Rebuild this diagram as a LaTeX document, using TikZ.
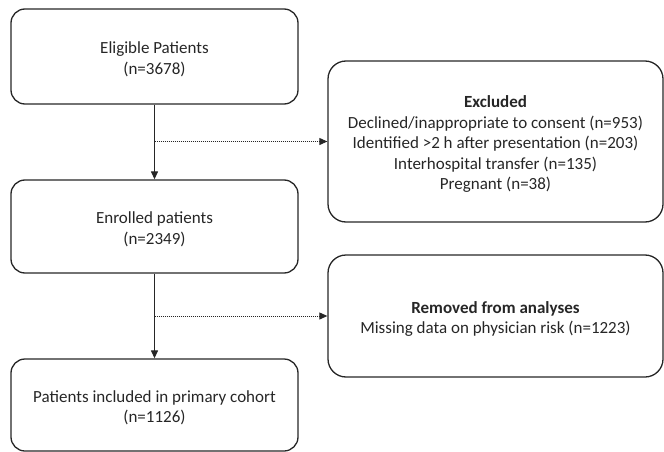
\documentclass[tikz,border=0pt]{standalone}
\usepackage{fontspec}
\setmainfont{Carlito}
\usetikzlibrary{arrows.meta}
\newcommand\tstrut{\rule{0pt}{17.5pt}}
\begin{document}
\begin{tikzpicture}[x=1pt,y=-1pt,
  box/.style={draw=black!85, line width=1.3pt, rounded corners=14pt, align=center,
    text=black!85, font=\fontsize{17}{20.5}\selectfont, inner sep=0pt},
  bigbox/.style={box, rounded corners=18pt},
  main/.style={draw=black!85, line width=1.2pt, -{Triangle[length=8pt,width=7pt]}},
  side/.style={draw=black!85, line width=1pt, densely dotted, -{Triangle[length=8pt,width=7pt]}}]
\useasboundingbox (0,0) rectangle (664,452);
\node[box, minimum width=287pt, minimum height=95pt] (elig) at (154.5,56.5)
  {\tstrut Eligible Patients\\(n=3678)};
\node[box, minimum width=287pt, minimum height=93pt] (enr) at (154.5,226.5)
  {\tstrut Enrolled patients\\(n=2349)};
\node[box, minimum width=287pt, minimum height=92pt] (prim) at (154.5,405)
  {\tstrut Patients included in primary cohort\\(n=1126)};
\node[bigbox, minimum width=335pt, minimum height=161pt] (excl) at (495.5,141.5)
  {\tstrut\textbf{Excluded}\\Declined/inappropriate to consent (n=953)\\Identified >2 h after presentation (n=203)\\Interhospital transfer (n=135)\\Pregnant (n=38)};
\node[bigbox, minimum width=335pt, minimum height=122pt] (rem) at (495.5,316)
  {\tstrut\textbf{Removed from analyses}\\Missing data on physician risk (n=1223)};
\coordinate (b1) at (elig.south |- excl.west);
\coordinate (b2) at (enr.south |- rem.west);
\draw[main] (elig.south) -- (enr.north);
\draw[main] (enr.south) -- (prim.north);
\draw[side] (b1) -- (excl.west);
\draw[side] (b2) -- (rem.west);
\end{tikzpicture}
\end{document}
